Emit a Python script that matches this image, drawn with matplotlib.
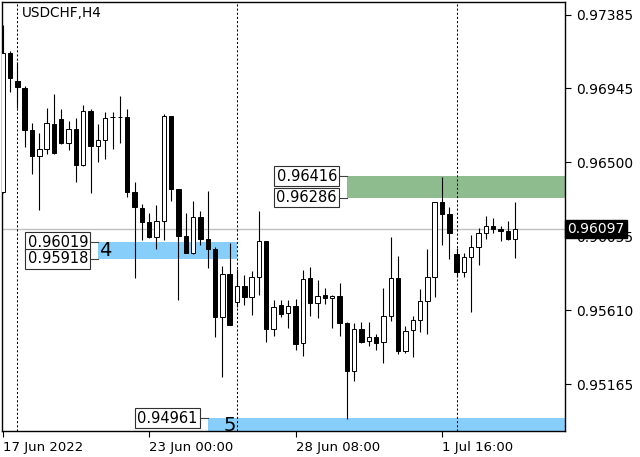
import matplotlib.pyplot as plt
from matplotlib.transforms import blended_transform_factory

# USDCHF H4 candles (index 0 = 17 Jun 16:00)
opens = [0.96321, 0.97155, 0.96988, 0.96944, 0.96693, 0.96539, 0.96577, 0.96728, 0.96758, 0.96617,
         0.96699, 0.96483, 0.96808, 0.96599, 0.96633, 0.96769, 0.96771, 0.96770, 0.96322, 0.96222,
         0.96138, 0.96048, 0.96146, 0.96778, 0.96339, 0.96056, 0.95952, 0.96172, 0.96036, 0.95976,
         0.95567, 0.95826, 0.95661, 0.95755, 0.95687, 0.95808, 0.96026, 0.95495, 0.95641, 0.95591,
         0.95635, 0.95411, 0.95801, 0.95651, 0.95701, 0.95681, 0.95695, 0.95534, 0.95246, 0.95495,
         0.95426, 0.95450, 0.95417, 0.95577, 0.95801, 0.95366, 0.95491, 0.95551, 0.95665, 0.95808,
         0.96259, 0.96188, 0.95946, 0.95841, 0.95931, 0.95988, 0.96072, 0.96116, 0.96096, 0.96088,
         0.96036]
highs = [0.97325, 0.97170, 0.97104, 0.96958, 0.96734, 0.96674, 0.96824, 0.96908, 0.96818, 0.96748,
         0.96764, 0.96844, 0.96820, 0.96728, 0.96803, 0.96803, 0.96898, 0.96818, 0.96382, 0.96248,
         0.96192, 0.96242, 0.96788, 0.96780, 0.96341, 0.96192, 0.96268, 0.96206, 0.96327, 0.95988,
         0.95876, 0.96016, 0.95856, 0.95821, 0.95845, 0.96206, 0.96028, 0.95671, 0.95671, 0.95671,
         0.95675, 0.95851, 0.95868, 0.95791, 0.95745, 0.95701, 0.95775, 0.95538, 0.95534, 0.95540,
         0.95540, 0.95467, 0.95741, 0.96052, 0.95936, 0.95515, 0.95575, 0.95735, 0.95976, 0.96262,
         0.96413, 0.96228, 0.95982, 0.95955, 0.96062, 0.96102, 0.96176, 0.96162, 0.96116, 0.96146,
         0.96262]
lows = [0.96315, 0.96924, 0.96824, 0.96589, 0.96429, 0.96212, 0.96549, 0.96549, 0.96612, 0.96573,
        0.96382, 0.96477, 0.96316, 0.96503, 0.96517, 0.96577, 0.96613, 0.96292, 0.95801, 0.96032,
        0.96046, 0.95976, 0.96032, 0.96268, 0.95671, 0.95953, 0.95950, 0.96002, 0.95862, 0.95450,
        0.95210, 0.95518, 0.95631, 0.95641, 0.95581, 0.95701, 0.95420, 0.95455, 0.95567, 0.95501,
        0.95370, 0.95334, 0.95575, 0.95561, 0.95647, 0.95501, 0.95455, 0.94955, 0.95184, 0.95411,
        0.95394, 0.95370, 0.95290, 0.95547, 0.95346, 0.95351, 0.95326, 0.95480, 0.95467, 0.95687,
        0.96002, 0.95916, 0.95811, 0.95811, 0.95601, 0.95882, 0.96036, 0.96072, 0.96028, 0.96032,
        0.95922]
closes = [0.97156, 0.97004, 0.96950, 0.96693, 0.96539, 0.96577, 0.96734, 0.96553, 0.96617, 0.96699,
          0.96483, 0.96808, 0.96597, 0.96633, 0.96764, 0.96771, 0.96769, 0.96322, 0.96228, 0.96138,
          0.96052, 0.96146, 0.96778, 0.96339, 0.96058, 0.95955, 0.96168, 0.96036, 0.95976, 0.95571,
          0.95826, 0.95521, 0.95755, 0.95687, 0.95811, 0.96026, 0.95495, 0.95631, 0.95587, 0.95635,
          0.95406, 0.95796, 0.95655, 0.95695, 0.95681, 0.95695, 0.95534, 0.95246, 0.95495, 0.95420,
          0.95450, 0.95414, 0.95577, 0.95801, 0.95364, 0.95487, 0.95551, 0.95665, 0.95808, 0.96259,
          0.96188, 0.96072, 0.95841, 0.95928, 0.95988, 0.96072, 0.96116, 0.96098, 0.96088, 0.96036,
          0.96097]

time_ticks = [0, 20, 40, 60]
time_labels = ["17 Jun 2022", "23 Jun 00:00", "28 Jun 08:00", "1 Jul 16:00"]
price_ticks = [0.97385, 0.96945, 0.96500, 0.96055, 0.95610, 0.95165]
week_starts = [2, 32, 62]
last_price = 0.96097

# zones: (start bar, end bar or None, top, bottom, number, colour)
zone_green = (47, None, 0.96416, 0.96286, "", "#8fbc8f")
zone_4 = (13, 32, 0.96019, 0.95918, "4", "#87cefa")
zone_5 = (28, None, 0.94961, 0.94870, "5", "#87cefa")

fig = plt.figure(figsize=(6.4, 4.57), dpi=100)
ax = fig.add_axes([2 / 640, 26 / 457, 563 / 640, 429 / 457])
x_right = 76.8
ax.set_xlim(-0.1, x_right)
ax.set_ylim(0.94883, 0.97463)

# price line and week separators
ax.axhline(last_price, color="#c0c0c0", lw=1.0, zorder=1)
for w in week_starts:
    ax.axvline(w, color="black", lw=0.75, dashes=(2, 2), zorder=2)

# zones with boxed price labels
for start, end, top, bottom, num, col in [zone_green, zone_4, zone_5]:
    stop = end if end is not None else x_right + 1
    ax.fill_between([start, stop], bottom, top, color=col, lw=0, zorder=1.5)
    levels = [top] if num == "5" else [top, bottom]
    for lev in levels:
        ax.plot([start - 1.3, start], [lev, lev], color="#404040", lw=0.8, zorder=2)
        ax.text(start - 1.35, lev, f"{lev:.5f}", ha="right", va="center", fontsize=10.5,
                zorder=5, bbox=dict(boxstyle="square,pad=0.15", fc="white", ec="#303030", lw=0.8))
    if num == "4":
        ax.text(start + 0.1, (top + bottom) / 2, num, ha="left", va="center", fontsize=14, zorder=5)
    elif num == "5":
        ax.text(start + 2.2, (top + bottom) / 2, num, ha="left", va="center", fontsize=14,
                zorder=5, clip_on=True)

# candles
idx = list(range(len(opens)))
ax.vlines(idx, lows, highs, color="black", lw=0.8, zorder=3)
for i in idx:
    o, c = opens[i], closes[i]
    face = "white" if c >= o else "black"
    ax.bar(i, abs(c - o), bottom=min(o, c), width=0.6, color=face,
           edgecolor="black", lw=0.7, zorder=4)

# axes look
for s in ax.spines.values():
    s.set_color("black")
    s.set_linewidth(1.0)
ax.yaxis.tick_right()
ax.set_yticks(price_ticks)
ax.set_yticklabels([f"{p:.5f}" for p in price_ticks])
ax.tick_params(axis="y", length=4, width=0.8, pad=4, labelsize=10)
ax.set_xticks(time_ticks)
ax.set_xticklabels(time_labels, ha="left")
ax.tick_params(axis="x", length=4, width=0.8, pad=3, labelsize=9.5)

ax.text(0.0355, 0.974, "USDCHF,H4", transform=ax.transAxes, ha="left", va="center", fontsize=9.8)

# current price tag on the price axis
trans = blended_transform_factory(ax.transAxes, ax.transData)
ax.text(1.004, last_price, f"{last_price:.5f}", transform=trans, ha="left", va="center",
        fontsize=10, color="white", zorder=10, clip_on=False,
        bbox=dict(boxstyle="square,pad=0.15", fc="black", ec="black"))

fig.savefig("out.png", dpi=100)
